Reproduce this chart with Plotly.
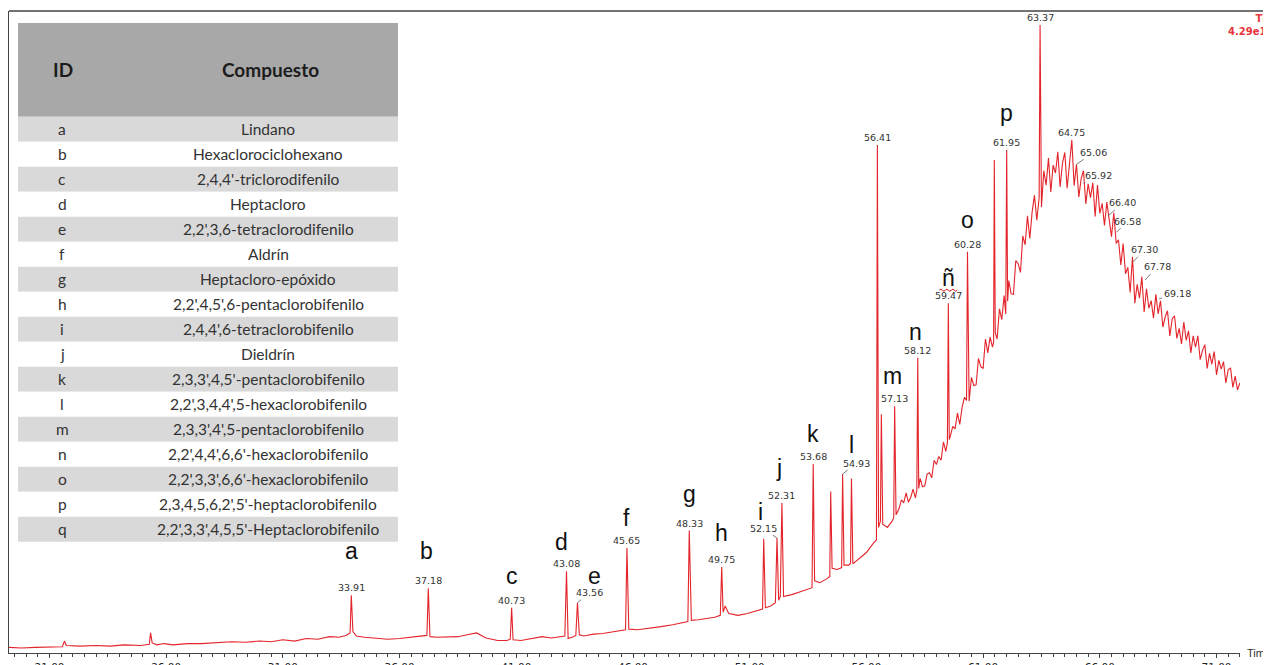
import plotly.graph_objects as go

# ---------------- data: chromatogram (retention time, min / intensity, % of largest peak) -------------
early_t = [19.26, 19.8, 20.4, 21.0, 21.55, 21.64, 21.72, 22.3, 23.0, 23.6, 24.2, 24.9, 25.28, 25.33, 25.40,
           25.6, 25.9, 26.3, 26.9, 27.5, 28.2, 28.8, 29.4, 30.0, 30.5, 31.0, 31.5, 32.0, 32.5, 33.0, 33.4,
           33.7, 33.88, 33.93, 34.0, 34.15, 34.5, 35.0, 35.5, 36.0, 36.5, 36.9, 37.17, 37.23, 37.3, 37.6,
           38.0, 38.5, 38.9, 39.3, 39.7, 40.2, 40.6, 40.74, 40.8, 40.86, 41.2, 41.7, 42.1, 42.5, 42.9,
           43.08, 43.15, 43.22, 43.45, 43.55, 43.62, 43.7, 43.9, 44.3, 44.7, 45.1, 45.5, 45.68, 45.74, 45.82]
early_y = [0.9, 0.8, 0.9, 1.0, 1.0, 1.9, 1.2, 1.1, 1.2, 1.1, 1.3, 1.2, 1.4, 3.2, 1.6,
           1.3, 1.5, 1.3, 1.5, 1.5, 1.6, 1.8, 1.7, 1.9, 1.8, 2.1, 1.9, 2.3, 2.2, 2.6, 2.5,
           2.8, 3.2, 9.2, 3.4, 2.7, 2.5, 2.3, 2.2, 2.3, 2.5, 2.6, 2.8, 10.3, 2.6, 2.5,
           2.5, 2.6, 2.9, 3.2, 2.4, 2.0, 2.0, 2.2, 7.2, 2.1, 2.0, 2.3, 2.6, 2.4, 2.6,
           2.7, 13.0, 2.3, 2.6, 2.8, 8.0, 2.9, 2.7, 3.0, 3.1, 3.3, 3.6, 3.7, 16.7, 3.8]

mid_t = [46.2, 46.7, 47.2, 47.7, 48.1, 48.35, 48.41, 48.5, 48.8, 49.2, 49.5, 49.74, 49.8, 49.86, 49.95,
         50.1, 50.5, 50.9, 51.3, 51.55, 51.6, 51.67, 51.9, 52.1, 52.17, 52.24, 52.31, 52.38, 52.45, 52.8,
         53.2, 53.67, 53.72, 53.78, 54.0, 54.3, 54.43, 54.47, 54.53, 54.75, 54.94, 54.98, 55.04, 55.25,
         55.32, 55.36, 55.42, 55.7, 56.0, 56.3, 56.43, 56.47, 56.52, 56.6, 56.64, 56.7, 56.9, 57.1,
         57.17, 57.21, 57.27, 57.4]
mid_y = [3.7, 3.9, 4.2, 4.5, 4.8, 5.0, 19.5, 5.2, 5.3, 5.5, 5.7, 6.0, 13.7, 6.5, 7.5,
         6.3, 6.0, 6.3, 6.8, 7.0, 18.2, 7.2, 7.5, 8.0, 18.3, 8.4, 9.0, 23.9, 9.0, 9.3,
         9.8, 10.4, 30.1, 11.5, 11.2, 11.8, 12.2, 25.7, 13.5, 13.3, 13.6, 28.5, 14.0, 14.0,
         14.3, 27.8, 14.2, 15.0, 16.0, 17.5, 18.0, 80.9, 20.0, 21.0, 38.0, 20.5, 20.0, 21.0,
         21.5, 39.3, 22.0, 23.0]

hump_t = [57.5, 57.6, 57.7, 57.8, 57.9, 58.0, 58.1, 58.16, 58.2, 58.24, 58.3, 58.4, 58.5, 58.6, 58.7,
          58.8, 58.9, 59.0, 59.1, 59.2, 59.3, 59.4, 59.47, 59.51, 59.55, 59.6, 59.7, 59.8, 59.9, 60.0,
          60.1, 60.2, 60.29, 60.33, 60.37, 60.4, 60.5, 60.6, 60.7, 60.8, 60.9, 61.0, 61.1, 61.2, 61.3,
          61.4, 61.45, 61.48, 61.52, 61.6, 61.7, 61.8, 61.9, 61.97, 62.01, 62.05, 62.1, 62.2, 62.3, 62.4,
          62.5, 62.6, 62.7, 62.8, 62.9, 63.0, 63.1, 63.2, 63.3, 63.4, 63.44, 63.48, 63.5,
          63.6, 63.7, 63.8, 63.9, 64.0, 64.1, 64.2, 64.3, 64.4, 64.5, 64.6, 64.7, 64.8, 64.9,
          65.0, 65.1, 65.2, 65.3, 65.4, 65.5, 65.6, 65.7, 65.8, 65.9, 66.0, 66.1, 66.2, 66.3,
          66.4, 66.5, 66.6, 66.7, 66.8, 66.9, 67.0, 67.1, 67.2, 67.3, 67.4, 67.5, 67.6, 67.7,
          67.8, 67.9, 68.0, 68.1, 68.2, 68.3, 68.4, 68.5, 68.6, 68.7, 68.8, 68.9, 69.0, 69.1,
          69.2, 69.3, 69.4, 69.5, 69.6, 69.7, 69.8, 69.9, 70.0, 70.1, 70.2, 70.3, 70.4, 70.5,
          70.6, 70.7, 70.8, 70.9, 71.0, 71.1, 71.2, 71.3, 71.4, 71.5, 71.6, 71.7, 71.8, 71.9, 72.0]
hump_y = [24.4, 23.9, 25.5, 24.0, 24.8, 26.1, 24.7, 25.9, 47.0, 26.2, 27.8, 26.5, 26.6, 28.5, 28.7,
          27.9, 30.7, 30.0, 31.3, 30.7, 33.6, 32.1, 33.5, 55.7, 34.0, 34.6, 36.1, 35.7, 38.2, 36.4,
          39.1, 40.7, 40.2, 63.9, 41.0, 40.1, 43.9, 42.6, 42.7, 46.9, 45.6, 45.3, 50.0, 47.8, 50.3,
          48.7, 49.5, 78.5, 51.0, 50.0, 54.8, 53.1, 56.9, 54.0, 80.1, 56.0, 59.3, 57.2, 57.1, 62.5,
          62.0, 60.6, 66.4, 65.0, 69.6, 66.0, 70.2, 72.9, 68.9, 72.5, 100.0, 72.8, 71.0,
          76.8, 74.5, 78.8, 73.4, 77.7, 76.4, 79.8, 74.2, 78.0, 79.7, 74.0, 78.2, 81.7, 74.4,
          77.8, 72.6, 75.5, 76.8, 71.5, 74.7, 72.5, 74.9, 69.5, 74.5, 70.0, 71.6, 68.1, 71.8,
          68.9, 66.3, 70.1, 65.2, 65.8, 61.8, 65.2, 60.4, 61.4, 57.4, 63.1, 55.7, 58.7, 56.5,
          59.9, 54.3, 58.0, 54.9, 56.1, 53.3, 57.1, 54.0, 56.1, 51.9, 53.5, 54.5, 50.5, 53.2,
          53.7, 50.1, 51.7, 49.2, 52.7, 49.8, 51.3, 47.8, 50.5, 48.7, 50.5, 46.7, 48.2, 49.1,
          45.3, 47.7, 46.0, 48.0, 44.3, 46.6, 45.2, 46.4, 43.0, 45.1, 45.4, 42.3, 44.1, 41.9, 43.0]

# retention-time labels printed right above a peak apex
apex_labels = ["33.91", "37.18", "40.73", "43.08", "45.65", "48.33", "49.75", "52.31", "53.68",
               "56.41", "57.13", "58.12", "59.47", "60.28", "61.95", "63.37", "64.75"]
apex_t = [33.93, 37.23, 40.8, 43.15, 45.74, 48.41, 49.8, 52.38, 53.72,
          56.47, 57.21, 58.2, 59.51, 60.33, 62.01, 63.44, 64.8]
apex_y = [9.2, 10.3, 7.2, 13.0, 16.7, 19.5, 13.7, 23.9, 30.1,
          80.9, 39.3, 47.0, 55.7, 63.9, 80.1, 100.0, 81.7]

# retention-time labels joined to their peak by a short leader line
leader_labels = ["43.56", "52.15", "54.93", "65.06", "65.92", "66.40", "66.58", "67.30", "67.78", "69.18"]
leader_t = [43.62, 52.17, 54.98, 65.0, 65.3, 66.35, 66.72, 67.42, 67.94, 68.54]
leader_y = [8.0, 18.3, 28.5, 77.8, 74.8, 69.6, 67.0, 62.3, 59.4, 56.4]

# compound letters, anchored on the apex of their peak
letter_ids = ["a", "b", "c", "d", "e", "f", "g", "h", "i", "j", "k", "l", "m", "n", "ñ", "o", "p"]
letter_t = [33.93, 37.23, 40.8, 43.15, 43.62, 45.74, 48.41, 49.8, 51.6, 52.38, 53.72, 55.36,
            57.21, 58.2, 59.51, 60.33, 62.01]
letter_y = [9.2, 10.3, 7.2, 13.0, 8.0, 16.7, 19.5, 13.7, 18.2, 23.9, 30.1, 27.8,
            39.3, 47.0, 55.7, 63.9, 80.1]

# compound table
table_ids = ["a", "b", "c", "d", "e", "f", "g", "h", "i", "j", "k", "l", "m", "n", "o", "p", "q"]
table_names = ["Lindano", "Hexaclorociclohexano", "2,4,4'-triclorodifenilo", "Heptacloro",
               "2,2',3,6-tetraclorodifenilo", "Aldrín", "Heptacloro-epóxido",
               "2,2',4,5',6-pentaclorobifenilo", "2,4,4',6-tetraclorobifenilo", "Dieldrín",
               "2,3,3',4,5'-pentaclorobifenilo", "2,2',3,4,4',5-hexaclorobifenilo",
               "2,3,3',4',5-pentaclorobifenilo", "2,2',4,4',6,6'-hexaclorobifenilo",
               "2,2',3,3',6,6'-hexaclorobifenilo", "2,3,4,5,6,2',5'-heptaclorobifenilo",
               "2,2',3,3',4,5,5'-Heptaclorobifenilo"]
tick_values = [21, 26, 31, 36, 41, 46, 51, 56, 61, 66, 71]
signal_note = "<b>TIC</b><br><b>4.29e10</b>"

# ---------------- layout / style ----------------
PAGE_OFF = 8                      # default body margin of the html page
W, H = 1271 - PAGE_OFF, 665 - PAGE_OFF
ML, MR, MT, MB = 1, 31, 3, 12
PW, PH = W - ML - MR, H - MT - MB
X_RANGE = [19.265, 72.006]
Y_RANGE = [0, 102.23]
RED = "#e3242b"
FRAME = "#444444"


def px_x(px):
    """page pixel -> paper x"""
    return (px - PAGE_OFF - ML) / PW


def px_y(py):
    """page pixel -> paper y"""
    return (H - MB - (py - PAGE_OFF)) / PH


# pixel offsets of leader-label text from their peak (style)
leader_offsets = [(12, -10), (-14, -10), (14, -11), (17, -12), (15, -8), (15, -13),
                  (11, -11), (12, -12), (12, -13), (18, -5)]
# pixel offsets of letters from their peak apex (dx, dy-up)
letter_offsets = [(0, 44), (-2, 37), (0, 32), (-5, 29), (17, 27), (0, 30), (0, 37), (0, 34),
                  (-3, 27), (-3, 35), (0, 30), (0, 33), (-2, 30), (-2, 26), (0, 25), (0, 32), (0, 37)]

time_min = early_t + mid_t + hump_t
intensity = early_y + mid_y + hump_y

fig = go.Figure()
fig.add_trace(go.Scatter(x=time_min, y=intensity, mode="lines",
                         line=dict(color=RED, width=1.1), hoverinfo="skip", showlegend=False))

num_font = dict(family="DejaVu Sans, sans-serif", size=9.5, color="#333333")
letter_font = dict(family="Liberation Sans, Arial, sans-serif", size=23, color="#111111")
annotations = []
for lab, t, y in zip(apex_labels, apex_t, apex_y):
    annotations.append(dict(x=t, y=y, xref="x", yref="y", text=lab, showarrow=False,
                            xanchor="center", yanchor="bottom", yshift=0, font=num_font))
for lab, t, y, (ax, ay) in zip(leader_labels, leader_t, leader_y, leader_offsets):
    annotations.append(dict(x=t, y=y, xref="x", yref="y", text=lab, showarrow=True,
                            arrowhead=0, arrowwidth=0.8, arrowcolor="#555555", ax=ax, ay=ay,
                            standoff=0, font=num_font))
for lab, t, y, (dx, dy) in zip(letter_ids, letter_t, letter_y, letter_offsets):
    annotations.append(dict(x=t, y=y, xref="x", yref="y", text=lab, showarrow=False,
                            xanchor="center", xshift=dx, yshift=dy, yanchor="middle",
                            font=letter_font))

# top-right TIC note (partly cut off by the page edge as in the original)
annotations.append(dict(x=px_x(1275), y=px_y(11), xref="paper", yref="paper", text=signal_note,
                        showarrow=False, xanchor="right", yanchor="top", align="right",
                        font=dict(family="DejaVu Sans, sans-serif", size=10, color="#e8343a")))
annotations.append(dict(x=px_x(1245), y=0, xref="paper", yref="paper", text="Time",
                        showarrow=False, xanchor="left", yanchor="middle",
                        font=dict(family="Liberation Sans, Arial", size=11, color="#333333")))

shapes = [dict(type="line", xref="paper", yref="paper", x0=0, x1=px_x(1275), y0=1, y1=1,
               line=dict(color=FRAME, width=1.5))]

# table drawn as shapes + text (page-pixel geometry)
TX0, TX1 = 18, 398
HEAD_TOP, HEAD_BOT = 23, 116.7
ROW_H = 25.0
shapes.append(dict(type="rect", xref="paper", yref="paper", x0=px_x(TX0), x1=px_x(TX1),
                   y0=px_y(HEAD_BOT), y1=px_y(HEAD_TOP), fillcolor="#a8a8a8", line=dict(width=0),
                   layer="above"))
head_font = dict(family="Lato, Open Sans, sans-serif", size=19, color="#1c1c1c")
row_font = dict(family="Lato, Open Sans, sans-serif", size=15.5, color="#333333")
annotations.append(dict(x=px_x(63), y=px_y((HEAD_TOP + HEAD_BOT) / 2), xref="paper", yref="paper",
                        text="<b>ID</b>", showarrow=False, xanchor="center", yanchor="middle",
                        font=head_font))
annotations.append(dict(x=px_x(270), y=px_y((HEAD_TOP + HEAD_BOT) / 2), xref="paper", yref="paper",
                        text="<b>Compuesto</b>", showarrow=False, xanchor="center", yanchor="middle",
                        font=head_font))
for i, (cid, name) in enumerate(zip(table_ids, table_names)):
    top = HEAD_BOT + i * ROW_H
    fill = "#d9d9d9" if i % 2 == 0 else "#ffffff"
    shapes.append(dict(type="rect", xref="paper", yref="paper", x0=px_x(TX0), x1=px_x(TX1),
                       y0=px_y(top + ROW_H), y1=px_y(top), fillcolor=fill, line=dict(width=0),
                       layer="above"))
    annotations.append(dict(x=px_x(62), y=px_y(top + ROW_H / 2), xref="paper", yref="paper",
                            text=cid, showarrow=False, xanchor="center", yanchor="middle",
                            font=row_font))
    annotations.append(dict(x=px_x(268), y=px_y(top + ROW_H / 2), xref="paper", yref="paper",
                            text=name, showarrow=False, xanchor="center", yanchor="middle",
                            font=row_font))

# red wavy spell-check underline under "ñ"
shapes.append(dict(type="path", xref="x", yref="y", xsizemode="pixel", ysizemode="pixel",
                   xanchor=59.51, yanchor=55.7,
                   path="M-9,13 Q-7.5,15 -6,13 T-3,13 T0,13 T3,13 T6,13 T9,13",
                   line=dict(color="#d01010", width=1)))

fig.update_layout(
    width=W, height=H,
    margin=dict(l=ML, r=MR, t=MT, b=MB, pad=0, autoexpand=False),
    paper_bgcolor="white", plot_bgcolor="white",
    showlegend=False,
    xaxis=dict(range=X_RANGE, tickvals=tick_values, tickformat=".2f", ticks="outside",
               ticklen=4, tickcolor=FRAME, showline=True, linecolor=FRAME, linewidth=1,
               showgrid=False, zeroline=False, automargin=False,
               tickfont=dict(family="DejaVu Sans, sans-serif", size=10.5, color="#222222"),
               minor=dict(dtick=0.5, tick0=21, ticks="outside", ticklen=3, tickcolor=FRAME,
                          showgrid=False)),
    yaxis=dict(range=Y_RANGE, showticklabels=False, ticks="", showline=True, linecolor=FRAME,
               linewidth=1.5, showgrid=False, zeroline=False, automargin=False),
    annotations=annotations,
    shapes=shapes,
)

fig.write_html("out.html")
